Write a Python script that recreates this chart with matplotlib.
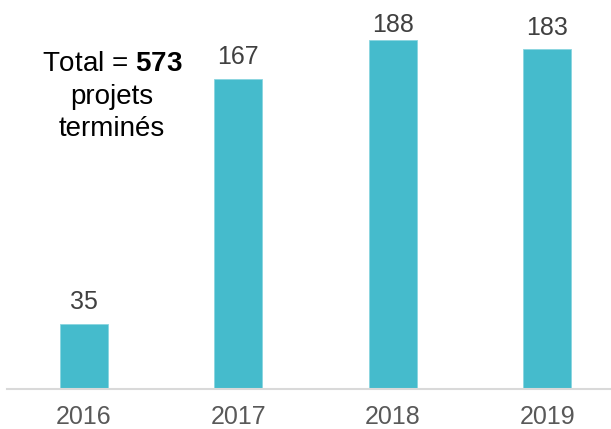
#!/usr/bin/env python3
import matplotlib
matplotlib.use('Agg')
import matplotlib.pyplot as plt

annees = ['2016', '2017', '2018', '2019']
projets = [35, 167, 188, 183]
total = sum(projets)

plt.rcParams['font.family'] = ['Liberation Sans', 'DejaVu Sans']
plt.rcParams['mathtext.fontset'] = 'custom'
plt.rcParams['mathtext.rm'] = 'Liberation Sans'
plt.rcParams['mathtext.bf'] = 'Liberation Sans:bold'

fig = plt.figure(figsize=(6.11, 4.29), dpi=100)
ax = fig.add_axes([7 / 611, 40 / 429, 604 / 611, 389 / 429])

x = list(range(len(annees)))
ax.bar(x, projets, width=0.31, color='#45BBCC', edgecolor='#8AD6E0', linewidth=0.6)

# étiquettes de valeur, plafonnées pour rester dans le cadre
for xi, v in zip(x, projets):
    ax.text(xi, min(v + 8, 192.3), str(v), ha='center', va='baseline',
            fontsize=18, color='#404040')

ax.set_xlim(-0.496, 3.411)
ax.set_ylim(0, 209.6)
ax.set_xticks(x)
ax.set_xticklabels(annees, fontsize=18, color='#595959')
ax.tick_params(axis='x', length=0, pad=11.5)
ax.set_yticks([])
for s in ['top', 'right', 'left']:
    ax.spines[s].set_visible(False)
ax.spines['bottom'].set_color('#D9D9D9')
ax.spines['bottom'].set_linewidth(1.5)

# encadré du total
cx = 112 / 611
fig.text(cx, 1 - 71 / 429, f'Total = $\\mathbf{{{total}}}$', ha='center', va='baseline',
         fontsize=20, color='black')
fig.text(cx, 1 - 104 / 429, 'projets', ha='center', va='baseline', fontsize=20, color='black')
fig.text(cx, 1 - 136 / 429, 'terminés', ha='center', va='baseline', fontsize=20, color='black')

plt.savefig('out.png', dpi=100)
